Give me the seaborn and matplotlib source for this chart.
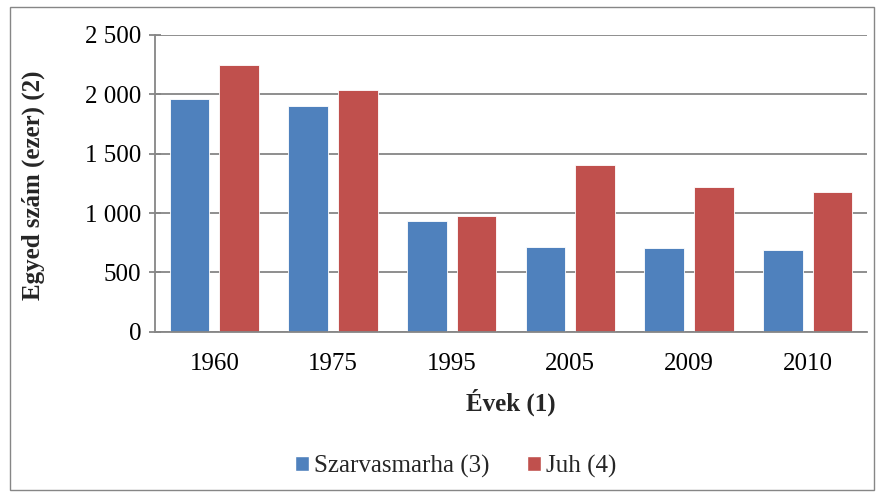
import matplotlib
matplotlib.use("Agg")
import matplotlib.pyplot as plt
import seaborn as sns
import pandas as pd
from matplotlib.patches import Rectangle
from matplotlib.ticker import FuncFormatter, FixedLocator

years = ["1960", "1975", "1995", "2005", "2009", "2010"]
cattle = [1963, 1904, 933, 714, 703, 687]
sheep = [2250, 2039, 978, 1405, 1223, 1180]
series_names = ["Szarvasmarha (3)", "Juh (4)"]
colors = ["#4F81BD", "#C0504D"]

df = pd.DataFrame({
    "year": years * 2,
    "value": cattle + sheep,
    "series": [series_names[0]] * len(years) + [series_names[1]] * len(years),
})

sns.set_theme(style="white")
plt.rcParams["font.family"] = ["Liberation Serif", "DejaVu Serif"]

FS = 18
fig = plt.figure(figsize=(8.8, 4.94), dpi=100)
ax = fig.add_axes([155 / 880, 1 - 331.7 / 494, 712 / 880, 296.7 / 494])

sns.barplot(data=df, x="year", y="value", hue="series", palette=colors,
            width=0.84, gap=0.207, ax=ax, edgecolor="white", linewidth=0.6,
            saturation=1)

ax.set_ylim(0, 2500)
ax.set_xlim(-0.5, 5.5)
ax.set_yticks([0, 500, 1000, 1500, 2000, 2500])
ax.yaxis.set_major_formatter(FuncFormatter(lambda v, p: f"{int(v):,}".replace(",", " ")))
ax.grid(axis="y", color="#868686", linewidth=1.3)
ax.set_axisbelow(True)

for s in ["top", "right"]:
    ax.spines[s].set_visible(False)
for s in ["left", "bottom"]:
    ax.spines[s].set_color("#868686")
    ax.spines[s].set_linewidth(1.3)

ax.tick_params(axis="x", which="major", length=0, labelsize=FS, pad=15, colors="black")
ax.xaxis.set_minor_locator(FixedLocator([i - 0.5 for i in range(len(years) + 1)]))
ax.tick_params(axis="x", which="minor", length=7, width=1.3, color="#868686", direction="out")
ax.tick_params(axis="y", length=8, width=1.3, color="#868686", direction="inout",
               labelsize=FS, pad=6, left=True, labelcolor="black")

ax.set_xlabel("")
ax.set_ylabel("")
fig.text(511 / 880, 1 - 402 / 494, "Évek (1)", fontsize=FS, fontweight="bold",
         ha="center", va="center")
fig.text(33 / 880, 1 - 185 / 494, "Egyed szám (ezer) (2)", fontsize=FS, fontweight="bold",
         ha="center", va="center", rotation=90)

ax.legend_.remove()
handles = [Rectangle((0, 0), 1, 1, facecolor=c) for c in colors]
fig.legend(handles, series_names, loc="center", bbox_to_anchor=(0.518, 1 - 466 / 494),
           ncol=2, frameon=False, fontsize=FS, handlelength=0.55, handleheight=0.55,
           handletextpad=0.2, columnspacing=1.5)

fig.patches.append(Rectangle((0.011, 0.008), 0.982, 0.978, transform=fig.transFigure,
                             fill=False, edgecolor="#868686", linewidth=1.0))

fig.savefig("out.png", dpi=100)
